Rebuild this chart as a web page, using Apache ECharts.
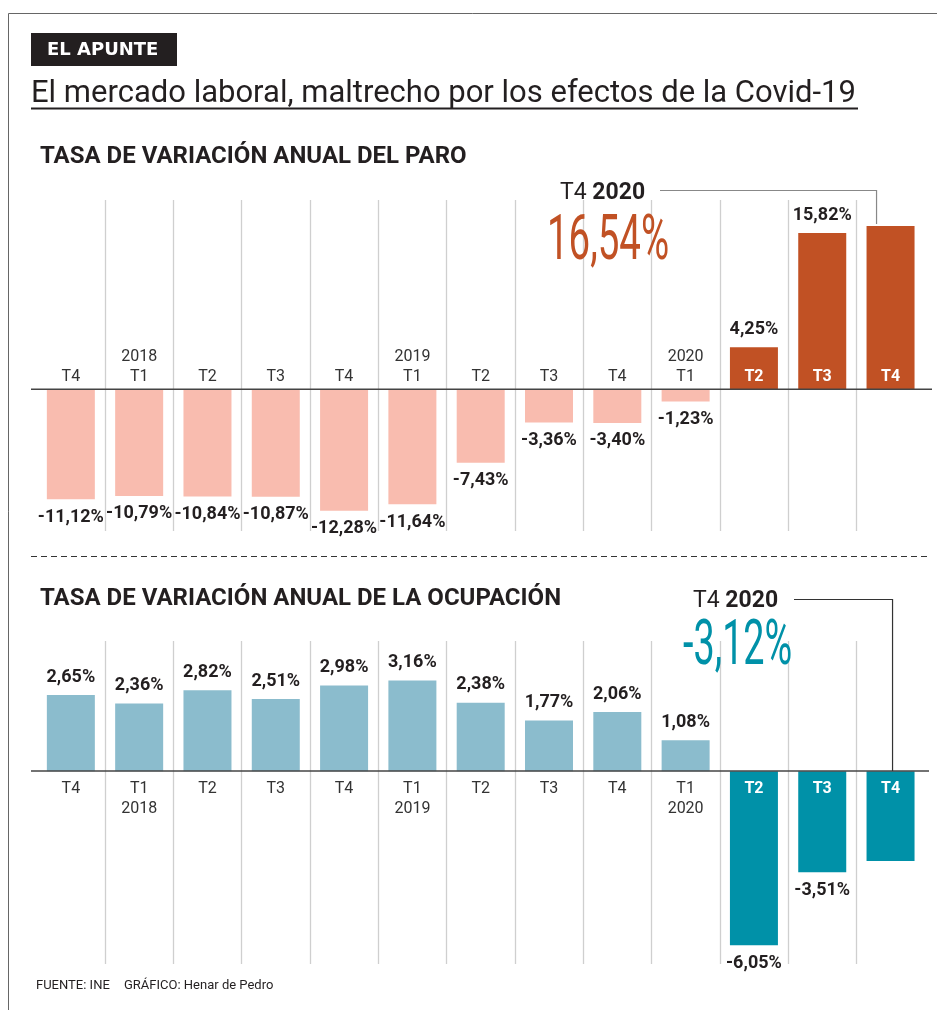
<!DOCTYPE html>
<html>
<head>
<meta charset="utf-8">
<script src="https://cdn.jsdelivr.net/npm/echarts@6/dist/echarts.min.js"></script>
<style>
html, body { margin: 0; padding: 0; background: #fff; }
#chart { width: 937px; height: 1010px; }
</style>
</head>
<body>
<div id="chart"></div>
<script>
// trimestres (año-trimestre)
var periodos = ['2017-T4', '2018-T1', '2018-T2', '2018-T3', '2018-T4', '2019-T1', '2019-T2',
    '2019-T3', '2019-T4', '2020-T1', '2020-T2', '2020-T3', '2020-T4'];
// tasa de variación anual del paro (%)
var tasaParo = [-11.12, -10.79, -10.84, -10.87, -12.28, -11.64, -7.43, -3.36, -3.40, -1.23, 4.25, 15.82, 16.54];
// tasa de variación anual de la ocupación (%)
var tasaOcupacion = [2.65, 2.36, 2.82, 2.51, 2.98, 3.16, 2.38, 1.77, 2.06, 1.08, -6.05, -3.51, -3.12];
var inicioCovid = 10; // desde 2020 T2 las barras van en color fuerte

// rango de cada eje vertical
var rangoParo = [-14.34, 19.16];
var rangoOcup = [-6.70, 4.53];

var FONT = 'Roboto';
var TINTA = '#231F20';
var colorParoClaro = '#F9BCAF', colorParoFuerte = '#C15124';
var colorOcupClaro = '#8BBCCD', colorOcupFuerte = '#0091A8';

function formatoPct(v) {
    return v.toFixed(2).replace('.', ',') + '%';
}

function ejeX(idx, arriba) {
    return {
        type: 'category',
        gridIndex: idx,
        data: periodos,
        position: 'bottom',
        z: 5,
        // la línea del eje se pinta aparte; el eje se sube hasta el cero con offset
        axisLine: { show: false, onZero: false },
        axisTick: { show: false },
        axisLabel: {
            inside: arriba,
            interval: 0,
            margin: arriba ? 2 : 7,
            fontFamily: FONT,
            fontSize: 16,
            lineHeight: 20,
            color: '#333',
            formatter: function (val, i) {
                var p = val.split('-');
                if (i >= inicioCovid) return '{w|' + p[1] + '}';
                if (p[1] === 'T1') return arriba ? p[0] + '\n' + p[1] : p[1] + '\n' + p[0];
                return p[1];
            },
            rich: {
                w: { color: '#fff', fontWeight: 'bold', fontSize: 16, fontFamily: FONT, lineHeight: 20 }
            }
        },
        splitLine: {
            show: true,
            showMinLine: false,
            showMaxLine: false,
            lineStyle: { color: '#cfcfcf', width: 1.3 }
        }
    };
}

function ejeY(idx, rango) {
    return {
        type: 'value', gridIndex: idx, min: rango[0], max: rango[1],
        axisLine: { show: false }, axisTick: { show: false },
        axisLabel: { show: false }, splitLine: { show: false }
    };
}

function serieBarras(idx, valores, claro, fuerte) {
    return {
        type: 'bar',
        xAxisIndex: idx,
        yAxisIndex: idx,
        barWidth: 48,
        data: valores.map(function (v, i) {
            return {
                value: v,
                itemStyle: { color: i >= inicioCovid ? fuerte : claro },
                label: { show: i !== valores.length - 1 } // el último va destacado aparte
            };
        }),
        label: {
            show: true,
            position: 'outside',
            distance: 9,
            fontFamily: FONT,
            fontWeight: 'bold',
            fontSize: 18,
            color: TINTA,
            formatter: function (p) { return formatoPct(p.value); }
        },
        emphasis: { disabled: true }
    };
}

var chart = echarts.init(document.getElementById('chart'));
chart.setOption({
    animation: false,
    backgroundColor: '#fff',
    grid: [
        { left: 36.7, right: 12.3, top: 200, bottom: 479 },
        { left: 36.7, right: 12.3, top: 641, bottom: 46 }
    ],
    xAxis: [ejeX(0, true), ejeX(1, false)],
    yAxis: [ejeY(0, rangoParo), ejeY(1, rangoOcup)],
    series: [
        serieBarras(0, tasaParo, colorParoClaro, colorParoFuerte),
        serieBarras(1, tasaOcupacion, colorOcupClaro, colorOcupFuerte)
    ]
});

// posiciones que dependen de los datos
var n = periodos.length - 1;
var ceroParo = chart.convertToPixel({ seriesIndex: 0 }, [0, 0]);
var baseParo = chart.convertToPixel({ seriesIndex: 0 }, [0, rangoParo[0]]);
var topeParo = chart.convertToPixel({ seriesIndex: 0 }, [n, tasaParo[n]]);
var ceroOcup = chart.convertToPixel({ seriesIndex: 1 }, [n, 0]);
var baseOcup = chart.convertToPixel({ seriesIndex: 1 }, [n, rangoOcup[0]]);

function texto(x, y, txt, estilo) {
    var s = { text: txt, x: 0, y: 0, fill: TINTA, fontFamily: FONT, verticalAlign: 'middle' };
    for (var k in estilo) s[k] = estilo[k];
    return { type: 'text', x: x, y: y, z: 50, style: s };
}

function linea(x1, y1, x2, y2, color, ancho, dash) {
    return {
        type: 'line', z: 40, silent: true,
        shape: { x1: x1, y1: y1, x2: x2, y2: y2 },
        style: { stroke: color, lineWidth: ancho, lineDash: dash || null }
    };
}

var t4rich = {
    a: { fontFamily: FONT, fontSize: 23, fill: TINTA, fontWeight: 'normal' },
    b: { fontFamily: FONT, fontSize: 23, fill: TINTA, fontWeight: 'bold' }
};

chart.setOption({
    xAxis: [
        { offset: ceroParo[1] - baseParo[1] },
        { offset: ceroOcup[1] - baseOcup[1] }
    ],
    graphic: [
        // marco
        linea(8.5, 13.5, 937, 13.5, '#666', 1),
        linea(8.5, 13.5, 8.5, 1010, '#666', 1),
        // cintillo
        { type: 'rect', z: 40, shape: { x: 31, y: 33, width: 146, height: 33 }, style: { fill: TINTA } },
        texto(47, 50, 'EL APUNTE', { fill: '#fff', fontFamily: 'DejaVu Sans', fontWeight: 'bold', fontSize: 18 }),
        // título
        texto(31, 94, 'El mercado laboral, maltrecho por los efectos de la Covid-19', { fontSize: 31 }),
        linea(31, 108.5, 858, 108.5, TINTA, 2),
        // subtítulos
        texto(40, 157, 'TASA DE VARIACIÓN ANUAL DEL PARO', { fontSize: 24, fontWeight: 'bold' }),
        texto(40, 599, 'TASA DE VARIACIÓN ANUAL DE LA OCUPACIÓN', { fontSize: 24, fontWeight: 'bold' }),
        // ejes en cero
        linea(31, ceroParo[1], 932, ceroParo[1], '#444', 1.5),
        linea(31, ceroOcup[1], 929, ceroOcup[1], '#444', 1.5),
        // separador
        linea(31, 556.5, 929, 556.5, '#333', 1, [6, 4]),
        // destacado paro
        texto(560, 193, '{a|T4 }{b|2020}', { rich: t4rich }),
        {
            type: 'polyline', z: 40, silent: true,
            shape: { points: [[660, 190.5], [topeParo[0] - 14, 190.5], [topeParo[0] - 14, topeParo[1] - 2]] },
            style: { stroke: '#888', lineWidth: 1.2, fill: null }
        },
        {
            type: 'text', x: 547, y: 243, scaleX: 0.61, z: 50,
            style: { text: formatoPct(tasaParo[n]), x: 0, y: 0, fill: colorParoFuerte, fontFamily: FONT, fontSize: 63, verticalAlign: 'middle' }
        },
        // destacado ocupación
        texto(693, 601, '{a|T4 }{b|2020}', { rich: t4rich }),
        {
            type: 'polyline', z: 40, silent: true,
            shape: { points: [[794, 599.5], [ceroOcup[0] + 2, 599.5], [ceroOcup[0] + 2, ceroOcup[1]]] },
            style: { stroke: '#333', lineWidth: 1.2, fill: null }
        },
        {
            type: 'text', x: 683, y: 648, scaleX: 0.6, z: 50,
            style: { text: formatoPct(tasaOcupacion[n]), x: 0, y: 0, fill: colorOcupFuerte, fontFamily: FONT, fontSize: 63, verticalAlign: 'middle' }
        },
        // fuente
        texto(36, 986, 'FUENTE: INE', { fontSize: 13 }),
        texto(124, 986, 'GRÁFICO: Henar de Pedro', { fontSize: 13 })
    ]
});
</script>
</body>
</html>
